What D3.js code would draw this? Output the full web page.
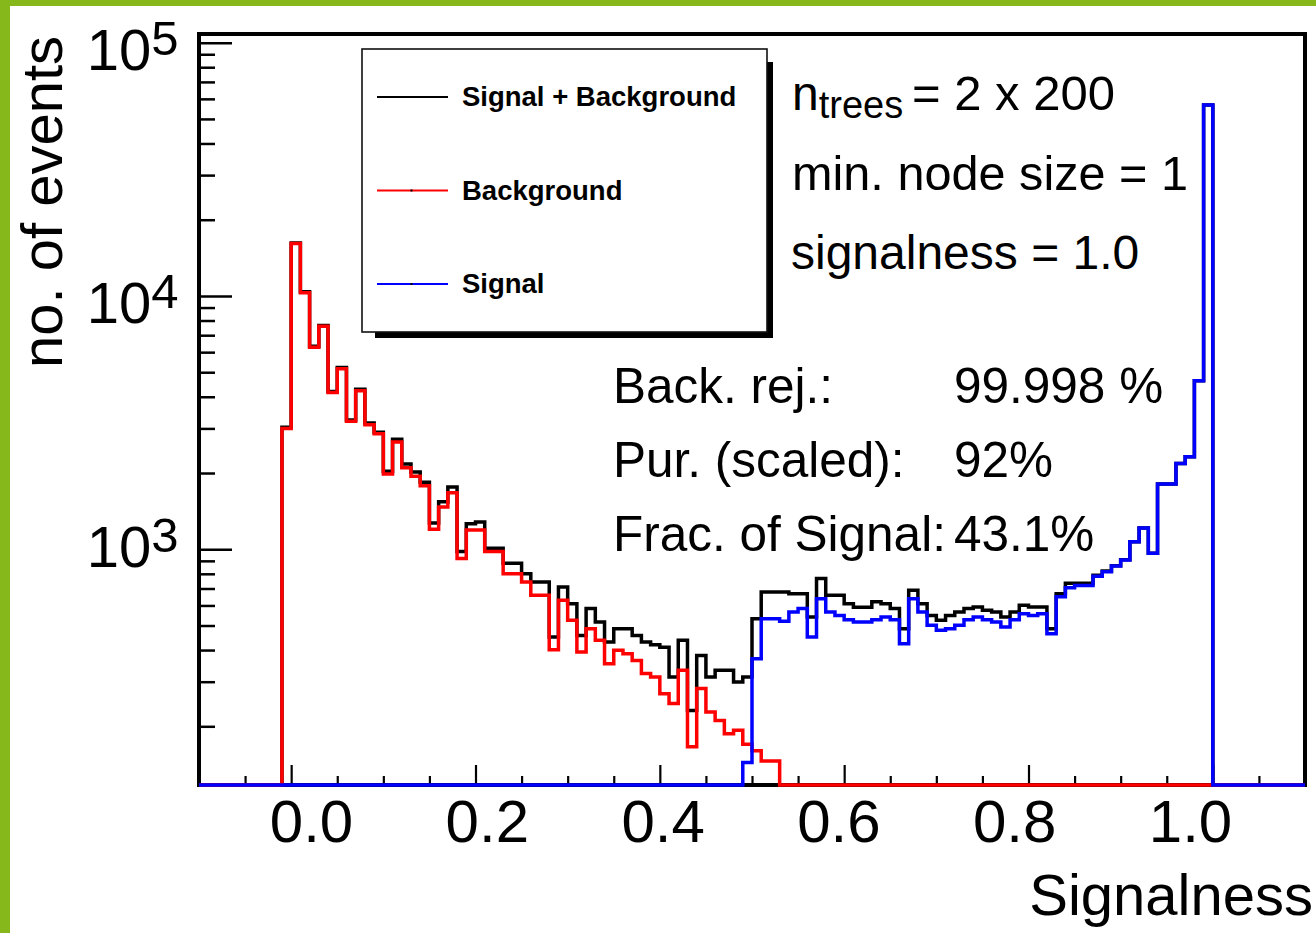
<!DOCTYPE html>
<html>
<head>
<meta charset="utf-8">
<script src="https://cdn.jsdelivr.net/npm/d3@7"></script>
<style>
  html, body { margin: 0; padding: 0; background: #fff; }
  svg { display: block; font-family: "Liberation Sans", Arial, Helvetica, sans-serif; }
</style>
</head>
<body>
<div id="viz"></div>
<script>
// binning of the histograms: 101 bins of width 0.01 starting at -0.01
const binStart = -0.01;
const binWidth = 0.01;

// background (red), read bin by bin
const background = [
  3000, 16100, 10300, 6280, 7590, 4160, 5160, 3200, 4220, 3100,
  2860, 1980, 2650, 2100, 1940, 1780, 1200, 1470, 1670, 920,
  1190, 1190, 980, 980, 800, 800, 743, 658, 658, 401,
  629, 524, 393, 486, 437, 353, 399, 387, 364, 323,
  313, 269, 246, 333, 166, 282, 228, 211, 187, 193,
  170, 160, 146, 146, 0, 0, 0, 0, 0, 0,
  0, 0, 0, 0, 0, 0, 0, 0, 0, 0,
  0, 0, 0, 0, 0, 0, 0, 0, 0, 0,
  0, 0, 0, 0, 0, 0, 0, 0, 0, 0,
  0, 0, 0, 0, 0, 0, 0, 0, 0, 0,
  0
];

// signal (blue)
const signal = [
  0, 0, 0, 0, 0, 0, 0, 0, 0, 0,
  0, 0, 0, 0, 0, 0, 0, 0, 0, 0,
  0, 0, 0, 0, 0, 0, 0, 0, 0, 0,
  0, 0, 0, 0, 0, 0, 0, 0, 0, 0,
  0, 0, 0, 0, 0, 0, 0, 0, 0, 0,
  144, 370, 532, 532, 520, 565, 583, 450, 638, 565,
  548, 527, 516, 516, 527, 540, 527, 424, 638, 565,
  501, 479, 486, 501, 527, 540, 527, 516, 493, 527,
  557, 548, 557, 464, 649, 705, 720, 720, 783, 816,
  858, 906, 1070, 1214, 965, 1810, 1810, 2180, 2320, 4630,
  56700
];

// signal + background (black)
const total = [
  3030, 16200, 10400, 6330, 7650, 4200, 5220, 3240, 4280, 3150,
  2900, 2030, 2720, 2170, 2020, 1840, 1270, 1540, 1760, 980,
  1260, 1280, 1010, 1010, 880, 880, 800, 743, 743, 450,
  710, 610, 457, 583, 516, 430, 486, 486, 457, 430,
  420, 410, 313, 437, 231, 381, 313, 333, 333, 299,
  313, 532, 678, 678, 678, 668, 668, 540, 766, 658,
  658, 610, 590, 590, 620, 610, 583, 486, 689, 610,
  548, 524, 548, 565, 583, 592, 574, 565, 540, 565,
  601, 592, 592, 486, 668, 735, 735, 735, 790, 820,
  860, 910, 1070, 1214, 965, 1810, 1810, 2180, 2320, 4630,
  56700
];

const xTickValues = [0, 0.2, 0.4, 0.6, 0.8, 1.0];
const yDecades = [3, 4, 5];

const legendItems = [
  { label: "Signal + Background", color: "#000000" },
  { label: "Background", color: "#ff0000" },
  { label: "Signal", color: "#0000ff" }
];

const statLabels = ["Back. rej.:", "Pur. (scaled):", "Frac. of Signal:"];
const statValues = ["99.998 %", "92%", "43.1%"];

const W = 1316, H = 933;
const plot = { left: 199, right: 1305, top: 34, bottom: 785 };

const svg = d3.select("#viz").append("svg")
    .attr("width", W)
    .attr("height", H);

// green slide border
svg.append("rect").attr("x", 0).attr("y", 0).attr("width", 10).attr("height", H).attr("fill", "#86b81b");
svg.append("rect").attr("x", 0).attr("y", 0).attr("width", W).attr("height", 6).attr("fill", "#86b81b");

const x = d3.scaleLinear().domain([-0.1, 1.1]).range([plot.left, plot.right]);
const y = d3.scaleLog().domain([117.3, 108200]).range([plot.bottom, plot.top]);
// the tick labels of the picture sit on a slightly narrower spacing than the ticks
const xLab = d3.scaleLinear().domain([0, 1]).range([311, 1190]);

const yMin = y.domain()[0];
const yPos = v => v > yMin ? y(v) : y(yMin);

// frame
svg.append("rect")
    .attr("x", plot.left).attr("y", plot.top)
    .attr("width", plot.right - plot.left).attr("height", plot.bottom - plot.top)
    .attr("fill", "none").attr("stroke", "#000").attr("stroke-width", 4);

// y ticks
const yMinor = [];
[100, 1000, 10000].forEach(d => {
    for (let m = 2; m <= 9; m++) {
        const v = m * d;
        if (v > yMin && v < y.domain()[1]) yMinor.push(v);
    }
});
const yMajor = yDecades.map(e => Math.pow(10, e));

function styleTicks(g, w) {
    g.select(".domain").remove();
    g.selectAll("line").attr("stroke", "#000").attr("stroke-width", w);
}

svg.append("g").attr("transform", `translate(${plot.left},0)`)
    .call(d3.axisLeft(y).tickValues(yMinor).tickSize(-16).tickFormat(""))
    .call(g => styleTicks(g, 2.5));
svg.append("g").attr("transform", `translate(${plot.left},0)`)
    .call(d3.axisLeft(y).tickValues(yMajor).tickSize(-33).tickFormat(""))
    .call(g => styleTicks(g, 2.5));

// x ticks
const xMinor = d3.range(-2, 23).map(i => i * 0.05).filter(v => Math.abs((v * 10) % 2) > 0.01);
svg.append("g").attr("transform", `translate(0,${plot.bottom})`)
    .call(d3.axisBottom(x).tickValues(xMinor).tickSize(-9).tickFormat(""))
    .call(g => styleTicks(g, 2.2));
svg.append("g").attr("transform", `translate(0,${plot.bottom})`)
    .call(d3.axisBottom(x).tickValues(xTickValues).tickSize(-20).tickFormat(""))
    .call(g => styleTicks(g, 2.2));

// x tick labels
svg.append("g").attr("transform", `translate(0,${plot.bottom})`)
    .call(d3.axisBottom(xLab).tickValues(xTickValues).tickSize(0).tickPadding(14).tickFormat(d3.format(".1f")))
    .call(g => {
        g.select(".domain").remove();
        g.attr("font-family", null).attr("font-size", null);
        g.selectAll("text").attr("fill", "#000").style("font-size", "60px");
    });

// y tick labels 10^n
const labelNudge = { 3: 18, 4: 27, 5: 27 };
yDecades.forEach(e => {
    const t = svg.append("text")
        .attr("x", 178.5)
        .attr("y", y(Math.pow(10, e)) + labelNudge[e])
        .attr("text-anchor", "end")
        .attr("fill", "#000");
    t.append("tspan").style("font-size", "58px").text("10");
    t.append("tspan").style("font-size", "49px").attr("dy", -15).text(e);
});

// axis titles
svg.append("text")
    .attr("transform", "translate(62,202) rotate(-90)")
    .attr("text-anchor", "middle")
    .style("font-size", "58px")
    .text("no. of events");

svg.append("text")
    .attr("x", 1313).attr("y", 915)
    .attr("text-anchor", "end")
    .style("font-size", "58px")
    .text("Signalness");

// histograms
svg.append("clipPath").attr("id", "plotclip")
    .append("rect")
    .attr("x", plot.left).attr("y", plot.top)
    .attr("width", plot.right - plot.left).attr("height", plot.bottom - plot.top + 3);

function steps(values) {
    const pts = [{ x: x.domain()[0], v: 0 }];
    values.forEach((v, k) => pts.push({ x: binStart + k * binWidth, v: v }));
    pts.push({ x: binStart + values.length * binWidth, v: 0 });
    pts.push({ x: x.domain()[1], v: 0 });
    return pts;
}

const line = d3.line()
    .x(d => x(d.x))
    .y(d => yPos(d.v))
    .curve(d3.curveStepAfter);

const hg = svg.append("g").attr("clip-path", "url(#plotclip)");
[[total, "#000000"], [background, "#ff0000"], [signal, "#0000ff"]].forEach(([vals, col]) => {
    hg.append("path")
        .datum(steps(vals))
        .attr("d", line)
        .attr("fill", "none")
        .attr("stroke", col)
        .attr("stroke-width", 3.5)
        .attr("stroke-linejoin", "miter");
});

// legend
const lg = svg.append("g");
lg.append("rect").attr("x", 375).attr("y", 62).attr("width", 398).attr("height", 276).attr("fill", "#000");
lg.append("rect").attr("x", 362).attr("y", 49).attr("width", 405).attr("height", 283)
    .attr("fill", "#fff").attr("stroke", "#111").attr("stroke-width", 1.6);
legendItems.forEach((d, i) => {
    const ly = 97 + i * 93.5;
    lg.append("line").attr("x1", 377).attr("x2", 448).attr("y1", ly).attr("y2", ly)
        .attr("stroke", d.color).attr("stroke-width", 2.2);
    lg.append("rect").attr("x", 410.5).attr("y", ly - 1).attr("width", 2).attr("height", 2).attr("fill", "#000");
    lg.append("text").attr("x", 462).attr("y", ly + 9)
        .style("font-size", "27.5px").style("font-weight", "bold")
        .text(d.label);
});

// MVA settings text
const p1 = svg.append("text").attr("x", 792).attr("y", 110).style("font-size", "48px");
p1.append("tspan").text("n");
p1.append("tspan").attr("dy", 8).style("font-size", "38px").text("trees");
p1.append("tspan").attr("x", 912).attr("dy", -8).style("font-size", "49px").text("= 2 x 200");

svg.append("text").attr("x", 792).attr("y", 190).style("font-size", "48px")
    .attr("textLength", 396).attr("lengthAdjust", "spacingAndGlyphs")
    .text("min. node size = 1");
svg.append("text").attr("x", 791).attr("y", 269).style("font-size", "48px")
    .text("signalness = 1.0");

// performance text
statLabels.forEach((s, i) => {
    svg.append("text").attr("x", 613).attr("y", 403 + i * 74)
        .style("font-size", "49.5px").text(s);
    svg.append("text").attr("x", 954).attr("y", 403 + i * 74)
        .style("font-size", "49.5px").text(statValues[i]);
});
</script>
</body>
</html>
